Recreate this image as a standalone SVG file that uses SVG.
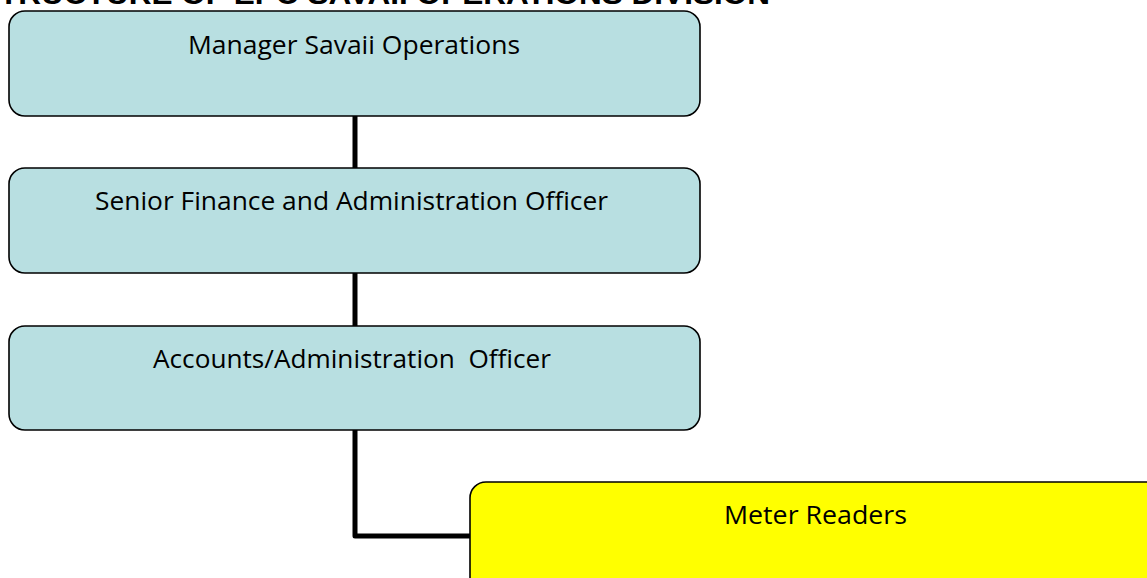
<svg xmlns="http://www.w3.org/2000/svg" width="1147" height="578" viewBox="0 0 1147 578">
<style>
.box{stroke:#000;stroke-width:1.6}
.blue{fill:#B8DFE1}
.yellow{fill:#FFFF00}
.lbl{font-family:"Open Sans","Noto Sans",sans-serif;font-size:26px;fill:#000}
.title{font-family:"Liberation Sans",Arial,sans-serif;font-weight:bold;font-size:30px;fill:#000}
.conn{fill:none;stroke:#000;stroke-width:5;stroke-linejoin:round}
</style>
<rect width="1147" height="578" fill="#fff"/>
<text class="title" x="-22" y="4" textLength="792" lengthAdjust="spacingAndGlyphs">STRUCTURE OF EPC SAVAII OPERATIONS DIVISION</text>
<g id="connectors">
<path class="conn" d="M355,116 V169"/>
<path class="conn" d="M355,273 V326"/>
<path class="conn" d="M355,430 V536 H471"/>
</g>
<g id="manager">
<rect class="box blue" x="9" y="11" width="691" height="105" rx="16"/>
<text class="lbl" x="188" y="54" textLength="332" lengthAdjust="spacingAndGlyphs">Manager Savaii Operations</text>
</g>
<g id="senior">
<rect class="box blue" x="9" y="168" width="691" height="105" rx="16"/>
<text class="lbl" x="95" y="210" textLength="513" lengthAdjust="spacingAndGlyphs">Senior Finance and Administration Officer</text>
</g>
<g id="accounts">
<rect class="box blue" x="9" y="326" width="691" height="104" rx="16"/>
<text class="lbl" x="153" y="368" textLength="398" lengthAdjust="spacingAndGlyphs" xml:space="preserve">Accounts/Administration  Officer</text>
</g>
<g id="meter">
<rect class="box yellow" x="470" y="482" width="695" height="120" rx="16"/>
<text class="lbl" x="724" y="524" textLength="183" lengthAdjust="spacingAndGlyphs">Meter Readers</text>
</g>
</svg>
